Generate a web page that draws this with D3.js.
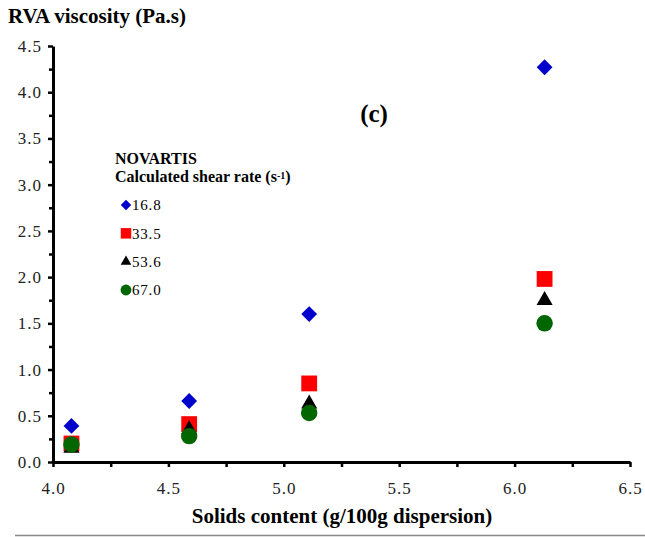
<!DOCTYPE html>
<html>
<head>
<meta charset="utf-8">
<script src="https://cdnjs.cloudflare.com/ajax/libs/d3/7.8.5/d3.min.js"></script>
<style>
  body { margin: 0; background: #fff; }
  svg { display: block; }
  text { font-family: "Liberation Serif", "Times New Roman", serif; }
</style>
</head>
<body>
<div class="canvas"></div>
<script>

// data
var solids = [4.08, 4.59, 5.11, 6.13];
var rates = ['16.8', '33.5', '53.6', '67.0'];
var visc168 = [0.39, 0.66, 1.60, 4.27];
var visc335 = [0.20, 0.41, 0.85, 1.98];
var visc536 = [0.15, 0.35, 0.63, 1.75];
var visc670 = [0.19, 0.28, 0.53, 1.50];
var xTicks = [4.0, 4.5, 5.0, 5.5, 6.0, 6.5];
var yTicks = [0, 0.5, 1, 1.5, 2, 2.5, 3, 3.5, 4, 4.5];

var series = [
  {name: rates[0], values: visc168, shape: 'diamond', color: '#0000cc'},
  {name: rates[1], values: visc335, shape: 'square', color: '#ff0000'},
  {name: rates[2], values: visc536, shape: 'triangle', color: '#000000'},
  {name: rates[3], values: visc670, shape: 'circle', color: '#006600'}
];

var W = 645, H = 537;
var margin = {t:46, l:53, b:75, r:15};
var width = W - margin.l - margin.r,
    height = H - margin.t - margin.b;

var svg = d3.select('.canvas')
    .append('svg')
    .attr('width', W)
    .attr('height', H);

var x = d3.scaleLinear().domain([4.0, 6.5]).range([0, width]);
var y = d3.scaleLinear().domain([0, 4.5]).range([height, 0]);

var g = svg.append('g')
    .attr('transform', 'translate(' + margin.l + ',' + margin.t + ')');

// minor ticks
var yMinor = d3.range(0.25, 4.5, 0.5);
var xMinor = d3.range(4.25, 6.5, 0.5);

g.append('g')
    .attr('class', 'minor')
    .call(d3.axisLeft(y).tickValues(yMinor).tickSize(4).tickFormat(''))
    .call(function(a){ a.select('.domain').remove(); });
g.append('g')
    .attr('class', 'minor')
    .attr('transform', 'translate(0,' + height + ')')
    .call(d3.axisBottom(x).tickValues(xMinor).tickSize(5).tickFormat(''))
    .call(function(a){ a.select('.domain').remove(); });

var yAxis = g.append('g')
    .call(d3.axisLeft(y).tickValues(yTicks).tickSize(5).tickSizeOuter(0).tickPadding(6)
      .tickFormat(d3.format('.1f')));
var xAxis = g.append('g')
    .attr('transform', 'translate(0,' + height + ')')
    .call(d3.axisBottom(x).tickValues(xTicks).tickSize(5).tickSizeOuter(0).tickPadding(15)
      .tickFormat(d3.format('.1f')));

svg.selectAll('.domain').attr('stroke', '#000').attr('stroke-width', 3);
svg.selectAll('.tick line').attr('stroke', '#000').attr('stroke-width', 2.5);
svg.selectAll('.tick text')
    .attr('font-family', '"Liberation Serif", serif')
    .attr('font-size', '17px')
    .attr('letter-spacing', '1px')
    .attr('fill', '#222');

// marker shapes
function shapePath(shape, s) {
  if (shape === 'diamond') return d3.symbol().type(d3.symbolSquare).size(s * 0.5)();
  if (shape === 'square') return d3.symbol().type(d3.symbolSquare).size(s)();
  if (shape === 'triangle') return d3.symbol().type(d3.symbolTriangle).size(s * 0.45)();
  return d3.symbol().type(d3.symbolCircle).size(s * 0.85)();
}
function shapeRotate(shape) { return shape === 'diamond' ? ' rotate(45)' : ''; }

series.forEach(function(se){
  g.selectAll('.pt-' + se.shape)
    .data(se.values)
    .enter().append('path')
    .attr('class', 'pt-' + se.shape)
    .attr('d', shapePath(se.shape, 250))
    .attr('transform', function(d, i){
      return 'translate(' + x(solids[i]) + ',' + y(d) + ')' + shapeRotate(se.shape);
    })
    .attr('fill', se.color);
});

// titles
svg.append('text')
    .attr('x', 8).attr('y', 23)
    .attr('font-size', '21px')
    .attr('font-weight', 'bold')
    .text('RVA viscosity (Pa.s)');

svg.append('text')
    .attr('x', 342).attr('y', 523)
    .attr('text-anchor', 'middle')
    .attr('font-size', '21px')
    .attr('font-weight', 'bold')
    .text('Solids content (g/100g dispersion)');

svg.append('text')
    .attr('x', 374).attr('y', 122)
    .attr('text-anchor', 'middle')
    .attr('font-size', '25px')
    .attr('font-weight', 'bold')
    .text('(c)');

// legend
var leg = svg.append('g').attr('transform', 'translate(115,0)');
leg.append('text')
    .attr('x', 0).attr('y', 164)
    .attr('font-size', '16px')
    .attr('font-weight', 'bold')
    .text('NOVARTIS');
var lt = leg.append('text')
    .attr('x', 0).attr('y', 182)
    .attr('font-size', '16px')
    .attr('font-weight', 'bold');
lt.append('tspan').text('Calculated shear rate (s');
lt.append('tspan').attr('baseline-shift', '35%').attr('font-size', '10px').text('-1');
lt.append('tspan').text(')');

var legY = d3.scalePoint().domain(rates).range([205, 290]);
var items = leg.selectAll('.item')
    .data(series)
    .enter().append('g')
    .attr('class', 'item')
    .attr('transform', function(d){ return 'translate(11,' + legY(d.name) + ')'; });
items.append('path')
    .attr('d', function(d){ return shapePath(d.shape, 110); })
    .attr('transform', function(d){ return shapeRotate(d.shape); })
    .attr('fill', function(d){ return d.color; });
items.append('text')
    .attr('x', 6).attr('dy', '0.35em')
    .attr('font-size', '15px')
    .attr('letter-spacing', '0.8px')
    .text(function(d){ return d.name; });

// frame remnants
svg.append('line')
    .attr('x1', 15).attr('x2', 645).attr('y1', 535.5).attr('y2', 535.5)
    .attr('stroke', '#888').attr('stroke-width', 1.5);

</script>
</body>
</html>
